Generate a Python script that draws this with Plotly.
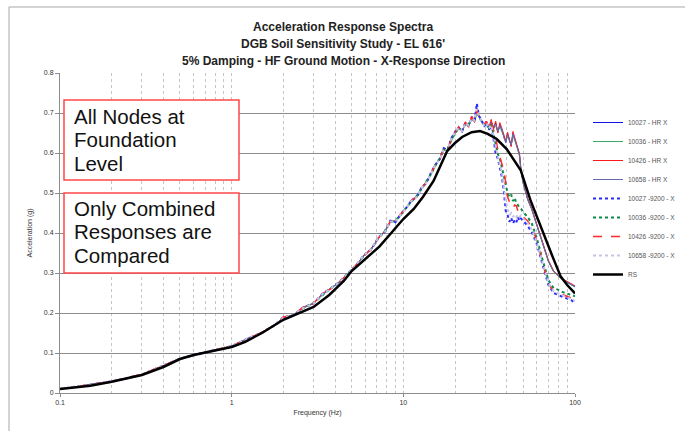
import plotly.graph_objects as go

# ---------------- data ----------------
rs_freq = [0.1, 0.15, 0.2, 0.3, 0.4, 0.5, 0.6, 0.8, 1.0, 1.2, 1.5, 2.0, 2.5, 3.0, 3.7, 4.5, 5.0, 6.0,
           7.25, 8.5, 10, 11.5, 13, 15, 16.5, 18, 20, 22, 25, 28, 31, 35, 40, 45, 48.3, 55, 62, 67.5,
           74, 82.6, 90, 100]
rs_acc = [0.010, 0.018, 0.028, 0.045, 0.065, 0.085, 0.095, 0.106, 0.115, 0.128, 0.150, 0.183, 0.200,
          0.215, 0.245, 0.280, 0.305, 0.335, 0.366, 0.400, 0.435, 0.460, 0.490, 0.530, 0.570, 0.605,
          0.625, 0.640, 0.652, 0.655, 0.648, 0.635, 0.610, 0.578, 0.557, 0.482, 0.424, 0.383, 0.341,
          0.291, 0.270, 0.249]

freq = [0.1, 0.2, 0.3, 0.5, 0.7, 1.0, 1.25, 1.5, 1.75, 2.0, 2.3, 2.6, 3.0, 3.4, 3.8, 4.3, 4.8, 5.3,
        5.9, 6.5, 7.2, 7.8, 8.4, 9.0, 9.7, 10.4, 11.2, 12.0, 12.8, 13.6, 14.5, 15.4, 16.3, 17.2, 18.1,
        19.0, 20.0, 21.0, 22.0, 23.0, 24.0, 25.0, 26.0, 26.8, 27.6, 28.5, 29.5, 30.5, 31.5, 32.5,
        33.5, 34.5, 35.5, 36.5, 37.5, 38.5, 39.5, 40.5, 41.5, 42.5, 43.5, 44.5, 45.5, 46.5, 47.5,
        48.5, 50, 53, 56, 60, 65, 70, 75, 80, 85, 90, 95, 100]

hr_10027 = [.010, .029, .046, .086, .102, .117, .137, .150, .168, .188, .194, .214, .224, .248, .262,
            .279, .300, .318, .345, .358, .390, .402, .430, .428, .448, .462, .482, .490, .514, .525,
            .550, .572, .584, .612, .606, .636, .652, .664, .655, .676, .668, .688, .680, .712, .690,
            .682, .668, .676, .660, .678, .664, .675, .652, .670, .658, .640, .626, .648, .632, .618,
            .650, .638, .622, .610, .596, .556, .525, .485, .460, .420, .372, .330, .304, .292, .283,
            .277, .271, .266]
hr_10036 = [.010, .028, .046, .085, .101, .116, .135, .151, .166, .186, .196, .211, .226, .245, .264,
            .277, .302, .316, .343, .361, .386, .405, .426, .432, .445, .465, .478, .494, .510, .528,
            .546, .568, .588, .606, .610, .630, .648, .660, .658, .670, .672, .682, .684, .700, .692,
            .678, .672, .670, .664, .672, .660, .668, .655, .664, .654, .642, .630, .642, .630, .620,
            .644, .634, .620, .606, .592, .552, .522, .483, .458, .418, .370, .328, .303, .291, .282,
            .276, .270, .265]
hr_10426 = [.010, .029, .047, .086, .102, .118, .136, .153, .167, .190, .195, .215, .223, .250, .261,
            .281, .299, .320, .344, .362, .388, .404, .428, .430, .450, .460, .484, .489, .512, .528,
            .548, .574, .582, .614, .604, .638, .650, .666, .652, .678, .664, .692, .676, .705, .694,
            .678, .672, .680, .664, .684, .660, .680, .650, .676, .662, .642, .630, .652, .636, .616,
            .654, .640, .626, .612, .598, .558, .527, .486, .461, .421, .373, .332, .306, .293, .285,
            .279, .273, .268]
hr_10658 = [.010, .028, .046, .085, .101, .117, .138, .149, .169, .187, .197, .212, .225, .247, .263,
            .278, .301, .317, .346, .359, .391, .401, .429, .427, .447, .463, .481, .491, .513, .526,
            .549, .571, .585, .611, .607, .635, .653, .662, .656, .674, .670, .686, .682, .708, .692,
            .680, .670, .674, .662, .676, .666, .672, .654, .668, .660, .638, .628, .646, .634, .620,
            .648, .636, .624, .608, .594, .554, .523, .484, .459, .419, .371, .329, .304, .292, .283,
            .277, .271, .266]
s9200_10027 = [.010, .029, .046, .086, .102, .117, .137, .151, .168, .189, .195, .213, .224, .249, .262,
               .280, .300, .319, .345, .359, .391, .402, .431, .427, .448, .463, .482, .490, .515, .524,
               .551, .571, .585, .612, .607, .636, .653, .664, .654, .677, .667, .690, .680, .724, .692,
               .684, .666, .676, .658, .668, .636, .598, .586, .560, .540, .505, .455, .445, .428, .438,
               .424, .432, .426, .440, .430, .436, .430, .418, .402, .372, .318, .270, .250, .244, .240,
               .236, .232, .226]
s9200_10036 = [.010, .028, .046, .085, .101, .116, .136, .150, .167, .187, .196, .212, .225, .246, .263,
               .278, .301, .317, .344, .360, .388, .404, .427, .431, .446, .464, .479, .493, .511, .527,
               .547, .569, .587, .608, .609, .632, .650, .661, .657, .672, .671, .684, .683, .702, .691,
               .679, .671, .671, .663, .672, .648, .622, .598, .586, .562, .540, .522, .500, .490, .496,
               .480, .488, .474, .470, .462, .460, .452, .440, .424, .386, .330, .282, .262, .258, .252,
               .248, .244, .242]
s9200_10426 = [.010, .029, .047, .086, .102, .118, .136, .152, .168, .190, .195, .214, .224, .250, .261,
               .280, .300, .320, .344, .361, .389, .403, .429, .430, .449, .461, .483, .490, .513, .527,
               .549, .573, .583, .613, .605, .637, .651, .665, .653, .677, .665, .691, .678, .706, .693,
               .679, .671, .679, .663, .676, .658, .640, .608, .592, .574, .556, .526, .490, .478, .470,
               .462, .470, .468, .455, .450, .448, .440, .430, .414, .380, .326, .272, .255, .250, .246,
               .242, .238, .234]
s9200_10658 = [.010, .028, .046, .085, .101, .117, .137, .150, .168, .188, .196, .212, .224, .248, .262,
               .279, .300, .318, .345, .360, .390, .402, .428, .428, .447, .462, .481, .490, .513, .526,
               .549, .571, .584, .611, .607, .635, .652, .663, .655, .675, .669, .687, .681, .710, .692,
               .680, .669, .675, .661, .670, .642, .610, .592, .570, .552, .520, .480, .460, .445, .450,
               .440, .446, .440, .446, .440, .444, .436, .425, .408, .376, .322, .274, .254, .248, .243,
               .239, .235, .230]

series_names = ["10027 - HR X", "10036 - HR X", "10426 - HR X", "10658 - HR X",
                "10027 -9200 - X", "10036 -9200 - X", "10426 -9200 - X", "10658 -9200 - X"]
series_vals = [hr_10027, hr_10036, hr_10426, hr_10658,
               s9200_10027, s9200_10036, s9200_10426, s9200_10658]
for v in series_vals:
    assert len(v) == len(freq), len(v)
assert len(rs_freq) == len(rs_acc)

x_ticks = [0.1, 1, 10, 100]
x_tick_text = ["0.1", "1", "10", "100"]
x_minor = [0.2, 0.3, 0.4, 0.5, 0.6, 0.7, 0.8, 0.9, 2, 3, 4, 5, 6, 7, 8, 9,
           20, 30, 40, 50, 60, 70, 80, 90]
y_ticks = [0, 0.1, 0.2, 0.3, 0.4, 0.5, 0.6, 0.7, 0.8]

title_lines = ["Acceleration Response Spectra",
               "DGB Soil Sensitivity Study - EL 616'",
               "5% Damping - HF Ground Motion - X-Response Direction"]
box1_lines = ["All Nodes at", "Foundation", "Level"]
box2_lines = ["Only Combined", "Responses are", "Compared"]

# ---------------- styles ----------------
styles = [
    dict(color="#1010EE", width=1, dash="solid"),
    dict(color="#3CAA6A", width=1, dash="solid"),
    dict(color="#FF1A1A", width=1, dash="solid"),
    dict(color="#6A6AB0", width=1, dash="solid"),
    dict(color="#2A2AFF", width=2, dash="dot"),
    dict(color="#0A8A4A", width=2, dash="dot"),
    dict(color="#FF2A2A", width=1.5, dash="dash"),
    dict(color="#C4C4E6", width=2, dash="dot"),
]

FONT = "Liberation Sans, Arial, sans-serif"
W, H = 685, 431
L, R, T, B = 60, 110, 73, 38
PW, PH = W - L - R, H - T - B


def px_x(p):
    return (p - L) / PW


def px_y(p):
    return (H - B - p) / PH


fig = go.Figure()
for name, vals, st in zip(series_names, series_vals, styles):
    fig.add_trace(go.Scatter(x=freq, y=vals, mode="lines", name=name, line=st))
fig.add_trace(go.Scatter(x=rs_freq, y=rs_acc, mode="lines", name="RS",
                         line=dict(color="black", width=2.5)))

annotations = []
for i, t in enumerate(title_lines):
    annotations.append(dict(text="<b>" + t + "</b>", x=px_x(343), y=px_y(27 + 17 * i),
                            xref="paper", yref="paper", showarrow=False,
                            xanchor="center", yanchor="middle",
                            font=dict(family=FONT, size=12, color="#222")))
for lines, top in ((box1_lines, 116), (box2_lines, 208)):
    for i, t in enumerate(lines):
        annotations.append(dict(text=t, x=px_x(72), y=px_y(top + 23.5 * i),
                                xref="paper", yref="paper", showarrow=False,
                                xanchor="left", yanchor="middle",
                                font=dict(family=FONT, size=20.5, color="#111")))

shapes = [
    dict(type="rect", xref="paper", yref="paper", x0=px_x(64), x1=px_x(239), y0=px_y(180), y1=px_y(100),
         line=dict(color="#FF4848", width=1.5), fillcolor="white", layer="above"),
    dict(type="rect", xref="paper", yref="paper", x0=px_x(64), x1=px_x(239), y0=px_y(273), y1=px_y(193),
         line=dict(color="#FF4848", width=1.5), fillcolor="white", layer="above"),
    dict(type="rect", xref="paper", yref="paper", x0=px_x(9), x1=px_x(720), y0=px_y(470), y1=px_y(7),
         line=dict(color="#A8A8A8", width=1), layer="below"),
]

fig.update_layout(
    width=W, height=H,
    margin=dict(l=L, r=R, t=T, b=B, autoexpand=False),
    paper_bgcolor="white", plot_bgcolor="white",
    font=dict(family=FONT, size=7, color="#333"),
    showlegend=True,
    legend=dict(x=588 / W, y=1 - 108 / H, xref="container", yref="container",
                xanchor="left", yanchor="top",
                font=dict(family=FONT, size=6.5, color="#555"),
                bgcolor="rgba(0,0,0,0)", tracegroupgap=0, itemwidth=30),
    annotations=annotations,
    shapes=shapes,
)

fig.update_xaxes(
    type="log", range=[-1, 2],
    tickmode="array", tickvals=x_ticks, ticktext=x_tick_text,
    showline=True, linecolor="#8C8C8C", linewidth=1,
    ticks="outside", ticklen=3, tickcolor="#8C8C8C",
    showgrid=True, gridcolor="#C4C4C4", griddash="3px,3px", gridwidth=1,
    minor=dict(tickmode="array", tickvals=x_minor, showgrid=True, gridcolor="#C4C4C4",
               griddash="3px,3px", gridwidth=1, ticks=""),
    tickfont=dict(family=FONT, size=7, color="#333"),
    title=dict(text="Frequency (Hz)", font=dict(family=FONT, size=7, color="#333"), standoff=4),
    zeroline=False,
)
fig.update_yaxes(
    range=[0, 0.8],
    tickmode="array", tickvals=y_ticks,
    showline=True, linecolor="#8C8C8C", linewidth=1,
    ticks="outside", ticklen=4, tickcolor="#8C8C8C",
    showgrid=True, gridcolor="#8C8C8C", gridwidth=1,
    tickfont=dict(family=FONT, size=7, color="#333"),
    title=dict(text="Acceleration (g)", font=dict(family=FONT, size=7, color="#333"), standoff=10),
    zeroline=False,
)

fig.write_html("out.html")
